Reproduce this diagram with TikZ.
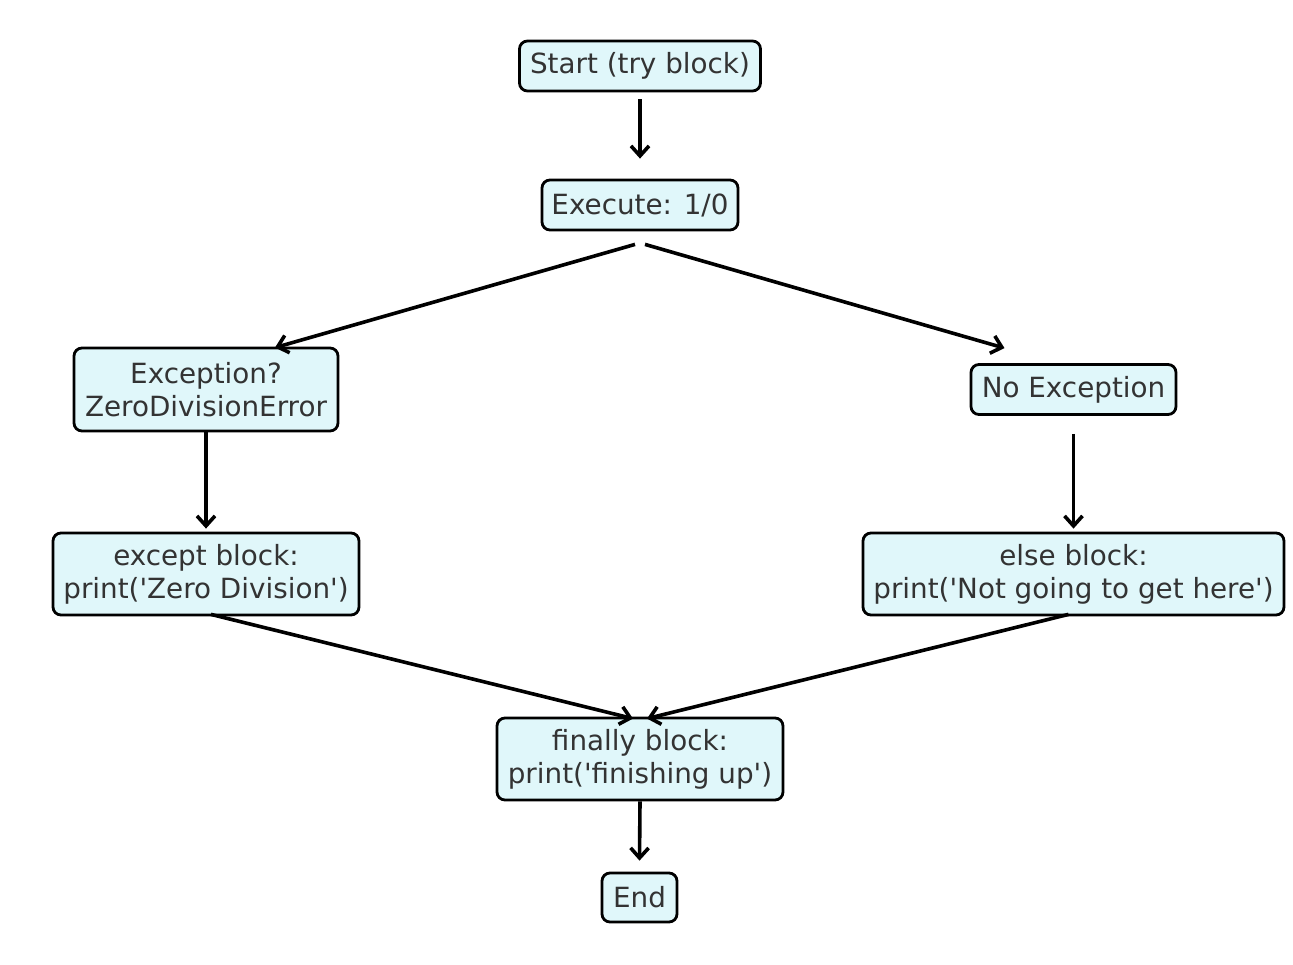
\documentclass[tikz,border=0pt]{standalone}
\usepackage{fontspec}
\setmainfont{DejaVu Sans}
\usetikzlibrary{arrows.meta}
\definecolor{boxfill}{HTML}{E0F7FA}
\definecolor{txt}{HTML}{333333}
\newcommand{\sq}{\textquotesingle}
\begin{document}
\begin{tikzpicture}[x=1pt,y=-1pt,
  box/.style={draw=black,line width=2.8pt,fill=boxfill,rounded corners=8pt,
    inner sep=0pt,align=center,text=txt,
    font=\fontsize{27.8pt}{33pt}\selectfont},
  arr/.style={line width=3.6pt,-{Straight Barb[length=10pt,width=18pt,line width=3.6pt]}}]
\useasboundingbox (0,0) rectangle (1293,964);
\node[box,minimum width=241pt,minimum height=50pt] (start) at (640,66) {\raisebox{-1.5pt}{Start (try block)}};
\node[box,minimum width=196pt,minimum height=50pt] (exec) at (640,205) {\raisebox{-1.5pt}{Execute: 1/0}};
\node[box,minimum width=264pt,minimum height=83pt] (exc) at (206,389.5) {Exception?\\ZeroDivisionError};
\node[box,minimum width=205pt,minimum height=50pt] (noexc) at (1073.5,389.5) {\raisebox{-1.5pt}{No Exception}};
\node[box,minimum width=306pt,minimum height=82pt] (except) at (206,574) {except block:\\print(\sq Zero Division\sq)};
\node[box,minimum width=421pt,minimum height=82pt] (else) at (1073.5,574) {else block:\\print(\sq Not going to get here\sq)};
\node[box,minimum width=286pt,minimum height=82pt] (finally) at (640,759) {finally block:\\print(\sq finishing up\sq)};
\node[box,minimum width=75pt,minimum height=49pt] (end) at (639.5,897.5) {\raisebox{-1.5pt}{End}};

\draw[arr] ([yshift=-7pt]start.south) -- ([yshift=20pt]exec.north);
\draw[arr] ([xshift=-5pt,yshift=-13pt]exec.south) -- ([xshift=69pt,yshift=-1pt]exc.north);
\draw[arr] ([xshift=5pt,yshift=-13pt]exec.south) -- ([xshift=-69pt,yshift=15pt]noexc.north);
\draw[arr] (exc.south) -- ([yshift=3pt]except.north);
\draw[arr] ([yshift=-18pt]noexc.south) -- ([yshift=3pt]else.north);
\draw[arr] ([xshift=5pt,yshift=2pt]except.south) -- ([xshift=-7pt,yshift=-2pt]finally.north);
\draw[arr] ([xshift=-5pt,yshift=2pt]else.south) -- ([xshift=7pt,yshift=-2pt]finally.north);
\draw[arr] (finally.south) -- ([yshift=11pt]end.north);
\end{tikzpicture}
\end{document}
